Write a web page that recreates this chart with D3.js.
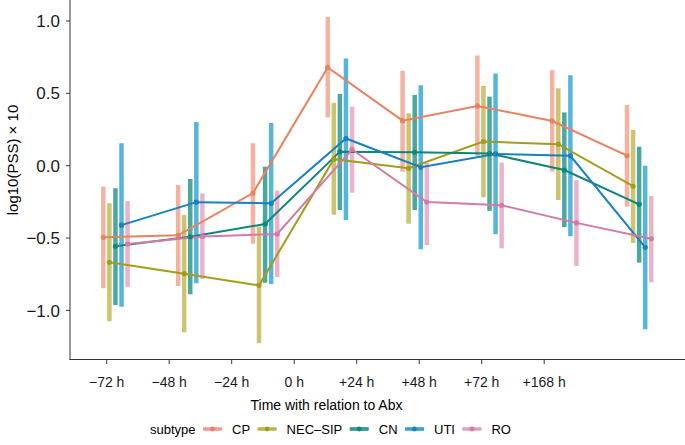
<!DOCTYPE html>
<html><head><meta charset="utf-8">
<script src="https://cdn.jsdelivr.net/npm/d3@7"></script>
<style>body{margin:0;background:#fff}svg{display:block;font-family:"Liberation Sans",Arial,sans-serif}</style>
</head><body><svg id="c" width="685" height="445"></svg>
<script>
const timeLabels = ["\u221272 h","\u221248 h","\u221224 h","0 h","+24 h","+48 h","+72 h","+168 h"];
const yTicks = [1.0, 0.5, 0.0, -0.5, -1.0];
const subtypes = ["CP","NEC\u2013SIP","CN","UTI","RO"];

const cpMean = [-0.495,-0.481,-0.189,0.679,0.311,0.413,0.309,0.069];
const cpLow  = [-0.847,-0.831,-0.539,0.334,-0.041,0.067,-0.041,-0.283];
const cpHigh = [-0.145,-0.133,0.155,1.028,0.656,0.762,0.660,0.419];

const necMean = [-0.668,-0.746,-0.827,0.045,-0.018,0.167,0.149,-0.142];
const necLow  = [-1.075,-1.151,-1.227,-0.339,-0.401,-0.218,-0.237,-0.534];
const necHigh = [-0.260,-0.341,-0.422,0.435,0.362,0.551,0.535,0.247];

const cnMean = [-0.557,-0.491,-0.403,0.097,0.093,0.084,-0.030,-0.267];
const cnLow  = [-0.963,-0.889,-0.809,-0.306,-0.306,-0.312,-0.424,-0.670];
const cnHigh = [-0.156,-0.092,-0.007,0.496,0.489,0.477,0.368,0.131];

const utiMean = [-0.411,-0.252,-0.260,0.188,-0.011,0.081,0.068,-0.564];
const utiLow  = [-0.974,-0.813,-0.818,-0.375,-0.578,-0.474,-0.487,-1.131];
const utiHigh = [0.155,0.302,0.295,0.741,0.556,0.637,0.625,-0.001];

const roMean = [-0.541,-0.489,-0.472,0.112,-0.251,-0.274,-0.395,-0.505];
const roLow  = [-0.838,-0.784,-0.769,-0.187,-0.548,-0.571,-0.693,-0.806];
const roHigh = [-0.244,-0.191,-0.173,0.408,0.019,0.021,-0.099,-0.209];

const lineColors = ["#E8825F","#A39D1B","#10857B","#1782BF","#D57AA6"];
const barColors  = ["#F3B3A0","#CCC471","#4BA7A0","#55B5DB","#EBB2CB"];

const seriesData = [
  [cpMean,cpLow,cpHigh],[necMean,necLow,necHigh],[cnMean,cnLow,cnHigh],
  [utiMean,utiLow,utiHigh],[roMean,roLow,roHigh]
];

const svg = d3.select("#c");
svg.append("rect").attr("width",685).attr("height",445).attr("fill","#fff");

const x = d3.scaleLinear().domain([0.4, 8.6]).range([69.2, 581.7]);
const y = d3.scaleLinear().domain([-1.34, 1.145]).range([359.6, 0]);
const groupPos = i => 1.14 + 1.197 * i;
const dodge = j => (j - 2) * 0.097;

const series = subtypes.map((name, j) => ({
  name, j,
  pts: timeLabels.map((t, i) => ({
    xv: groupPos(i) + dodge(j),
    m: seriesData[j][0][i], lo: seriesData[j][1][i], hi: seriesData[j][2][i]
  }))
}));

// error bars
series.forEach(s => {
  svg.append("g").selectAll("line").data(s.pts).join("line")
    .attr("x1", d => x(d.xv)).attr("x2", d => x(d.xv))
    .attr("y1", d => y(d.lo)).attr("y2", d => y(d.hi))
    .attr("stroke", barColors[s.j]).attr("stroke-width", 4.5);
});
// lines
const lineGen = d3.line().x(d => x(d.xv)).y(d => y(d.m));
series.forEach(s => {
  svg.append("path").datum(s.pts).attr("d", lineGen)
    .attr("fill","none").attr("stroke", lineColors[s.j]).attr("stroke-width", 2);
});
// points
series.forEach(s => {
  svg.append("g").selectAll("circle").data(s.pts).join("circle")
    .attr("cx", d => x(d.xv)).attr("cy", d => y(d.m)).attr("r", 2.6)
    .attr("fill", lineColors[s.j]);
});

// axes
const axisColor = "#333";
const gy = svg.append("g");
gy.append("line").attr("x1",70).attr("x2",70).attr("y1",0).attr("y2",360)
  .attr("stroke",axisColor).attr("stroke-width",1);
yTicks.forEach(v => {
  gy.append("line").attr("x1",66).attr("x2",70).attr("y1",y(v)).attr("y2",y(v))
    .attr("stroke",axisColor).attr("stroke-width",1);
  gy.append("text").attr("x",60).attr("y",y(v)).attr("dy","0.36em")
    .attr("text-anchor","end").attr("font-size",17).attr("fill","#1a1a1a")
    .text(d3.format(".1f")(v).replace("-","\u2212"));
});
svg.append("text").attr("transform","translate(18,160) rotate(-90)")
  .attr("text-anchor","middle").attr("font-size",15).attr("fill","#000")
  .text("log10(PSS) \u00d7 10");

const gx = svg.append("g");
gx.append("line").attr("x1",69.5).attr("x2",685).attr("y1",359.5).attr("y2",359.5)
  .attr("stroke",axisColor).attr("stroke-width",1);
timeLabels.forEach((t, k) => {
  const px = x(k + 1);
  gx.append("line").attr("x1",px).attr("x2",px).attr("y1",360).attr("y2",364)
    .attr("stroke",axisColor).attr("stroke-width",1);
  gx.append("text").attr("x",px).attr("y",387).attr("text-anchor","middle")
    .attr("font-size",14).attr("fill","#1a1a1a").text(t);
});
svg.append("text").attr("x",326.5).attr("y",410).attr("text-anchor","middle")
  .attr("font-size",14).attr("fill","#000").text("Time with relation to Abx");

// legend
const lg = svg.append("g");
const ly = 429;
let cx = 150;
const title = lg.append("text").attr("x",cx).attr("y",ly).attr("dy","0.36em")
  .attr("font-size",13).attr("fill","#000").text("subtype");
cx += title.node().getComputedTextLength() + 7.5;
subtypes.forEach((name, j) => {
  lg.append("line").attr("x1",cx).attr("x2",cx+19).attr("y1",ly).attr("y2",ly)
    .attr("stroke",barColors[j]).attr("stroke-width",4);
  lg.append("line").attr("x1",cx).attr("x2",cx+19).attr("y1",ly).attr("y2",ly)
    .attr("stroke",lineColors[j]).attr("stroke-width",1.2).attr("opacity",0.6);
  lg.append("circle").attr("cx",cx+9.5).attr("cy",ly).attr("r",2.4).attr("fill",lineColors[j]);
  cx += 19 + 10;
  const t = lg.append("text").attr("x",cx).attr("y",ly).attr("dy","0.36em")
    .attr("font-size",13).attr("fill","#000").text(name);
  cx += t.node().getComputedTextLength() + 7.5;
});
</script></body></html>
